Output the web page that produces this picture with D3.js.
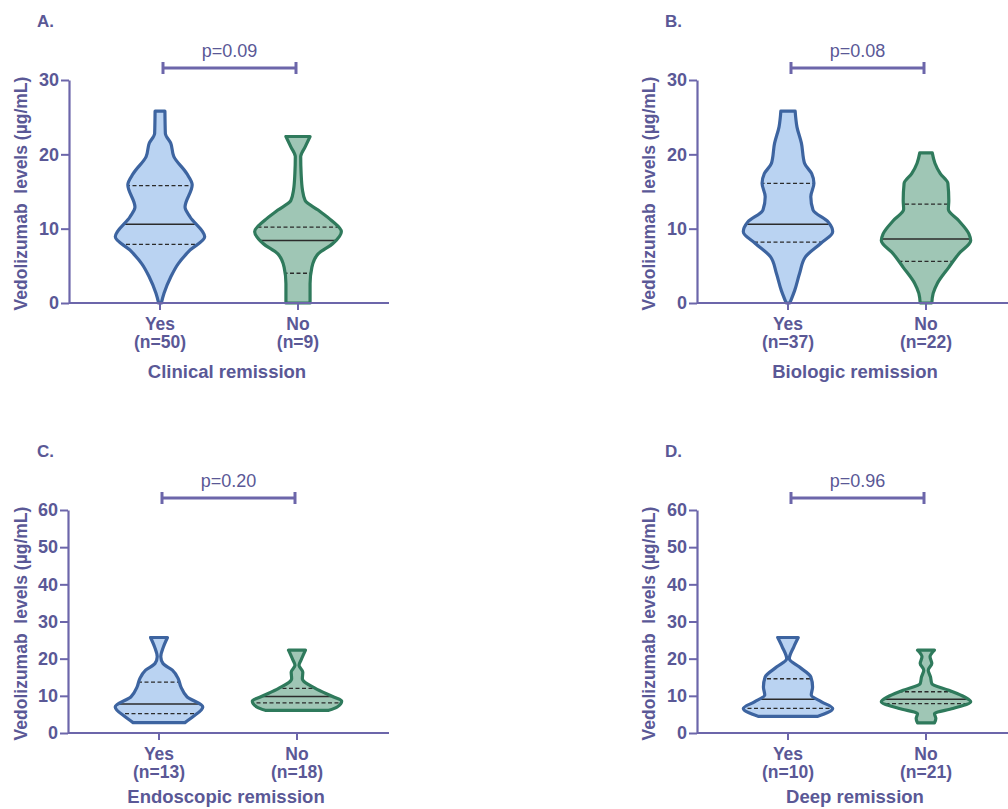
<!DOCTYPE html>
<html>
<head>
<meta charset="utf-8">
<script src="https://cdn.jsdelivr.net/npm/d3@7"></script>
<style>
  body { margin: 0; background: #fff; }
  svg { display: block; font-family: "Liberation Sans", Arial, sans-serif; }
</style>
</head>
<body>
<div id="chart"></div>
<script>
// categories and panel labels
const groups = ["Yes", "No"];
const panelLetters = ["A.", "B.", "C.", "D."];
const panelTitles = ["Clinical remission", "Biologic remission", "Endoscopic remission", "Deep remission"];
const sampleSizes = [[50, 9], [37, 22], [13, 18], [10, 21]];
const pValues = ["p=0.09", "p=0.08", "p=0.20", "p=0.96"];
const yMaxes = [30, 30, 60, 60];
const yTicksA = [0, 10, 20, 30];
const yTicksC = [0, 10, 20, 30, 40, 50, 60];

// quartiles [q1, median, q3] per panel: [Yes, No]
const quartiles = [
    [[7.9, 10.6, 15.8], [4.0, 8.4, 10.2]],
    [[8.2, 10.6, 16.1], [5.6, 8.6, 13.3]],
    [[5.2, 7.8, 13.7], [8.1, 9.8, 12.0]],
    [[6.6, 9.1, 14.6], [7.9, 9.1, 11.1]]
];

// violin outlines: [value, relative density] (top to bottom)
const densityA = [
    [[25.8, 0.11], [22.8, 0.12], [21.5, 0.24], [19.7, 0.31], [17.4, 0.60], [15.9, 0.72], [12.9, 0.56],
     [11.6, 0.67], [8.9, 1.0], [7.1, 0.67], [5.3, 0.41], [3.5, 0.24], [1.3, 0.09], [0, 0.03]],
    [[22.4, 0.27], [21.0, 0.16], [19.7, 0.06], [17.4, 0.07], [15.2, 0.10], [13.8, 0.16], [12.5, 0.45],
     [11.1, 0.75], [9.6, 0.97], [8.0, 0.78], [6.6, 0.45], [4.8, 0.31], [2.6, 0.27], [0, 0.27]]
];
const densityB = [
    [[25.8, 0.16], [23.7, 0.20], [21.5, 0.30], [18.8, 0.37], [17.4, 0.53], [16.1, 0.58], [14.3, 0.51],
     [12.5, 0.56], [10.9, 0.90], [9.6, 1.0], [8.0, 0.73], [6.2, 0.39], [4.0, 0.26], [1.7, 0.15], [0, 0.04]],
    [[20.2, 0.14], [18.8, 0.20], [17.4, 0.32], [16.1, 0.49], [13.8, 0.51], [12.6, 0.50], [11.1, 0.73],
     [9.3, 0.96], [8.4, 1.0], [6.6, 0.73], [4.8, 0.51], [2.6, 0.25], [1.3, 0.16], [0, 0.13]]
];
const densityC = [
    [[25.7, 0.19], [23.2, 0.10], [20.5, 0.04], [18.7, 0.09], [16.9, 0.30], [14.6, 0.43], [12.4, 0.49],
     [9.7, 0.63], [7.0, 0.98], [4.3, 0.75], [2.8, 0.58]],
    [[22.3, 0.19], [19.6, 0.09], [18.2, 0.045], [16.4, 0.13], [14.6, 0.12], [12.0, 0.41], [9.7, 0.82],
     [8.6, 1.0], [7.0, 0.90], [6.1, 0.71]]
];
const densityD = [
    [[25.7, 0.23], [23.2, 0.13], [20.0, 0.03], [17.8, 0.25], [15.1, 0.51], [12.4, 0.55], [10.2, 0.52],
     [8.4, 0.75], [6.6, 1.0], [4.5, 0.67]],
    [[22.3, 0.19], [20.5, 0.09], [18.7, 0.13], [16.9, 0.05], [15.1, 0.10], [13.3, 0.13], [11.5, 0.51],
     [9.7, 0.86], [8.4, 1.0], [6.6, 0.60], [5.2, 0.19], [3.9, 0.22], [2.7, 0.19]]
];
const densities = [densityA, densityB, densityC, densityD];

const W = 1008, H = 809;
const axisColor = "#6c66aa";
const textColor = "#5a5896";
const fills = ["#bad3f2", "#9fc6b5"];
const strokes = ["#3d64a0", "#2f7a5c"];

// panel frames: left axis x, top of y range, bottom (0) of y range, x axis end
const frames = [
    {x: 69, top: 80, bottom: 303, end: 389, ox: 0, oy: 0},
    {x: 697, top: 80, bottom: 303, end: 1010, ox: 628, oy: 0},
    {x: 68, top: 510, bottom: 733, end: 389, ox: 0, oy: 430},
    {x: 697, top: 510, bottom: 733, end: 1010, ox: 628, oy: 430}
];

const svg = d3.select("#chart").append("svg")
    .attr("width", W)
    .attr("height", H);

const widthScale = d3.scaleLinear().domain([0, 1]).range([0, 44.7]);

frames.forEach((f, i) => {
    const g = svg.append("g").attr("class", "panel");
    const y = d3.scaleLinear().domain([0, yMaxes[i]]).range([f.bottom, f.top]);
    const x = d3.scalePoint().domain(groups).range([f.x + 91, f.x + 229]);
    const ticks = yMaxes[i] === 30 ? yTicksA : yTicksC;
    const tallMode = yMaxes[i] === 30;

    // violins
    groups.forEach((grp, j) => {
        const cx = x(grp);
        const pts = densities[i][j];
        const area = d3.area()
            .y(d => y(d[0]))
            .x0(d => cx - widthScale(d[1]))
            .x1(d => cx + widthScale(d[1]))
            .curve(d3.curveMonotoneY);
        const clipId = "clip" + i + "_" + j;
        g.append("clipPath").attr("id", clipId)
            .append("path").attr("d", area(pts));
        g.append("path")
            .attr("d", area(pts))
            .attr("fill", fills[j]);
        const q = quartiles[i][j];
        const lines = g.append("g").attr("clip-path", "url(#" + clipId + ")");
        q.forEach((v, k) => {
            lines.append("line")
                .attr("x1", cx - 60).attr("x2", cx + 60)
                .attr("y1", y(v)).attr("y2", y(v))
                .attr("stroke", "#2b2b2b")
                .attr("stroke-width", k === 1 ? 1.5 : 1.3)
                .attr("stroke-dasharray", k === 1 ? null : "4,2.5");
        });
        g.append("path")
            .attr("d", area(pts))
            .attr("fill", "none")
            .attr("stroke", strokes[j])
            .attr("stroke-width", 3.2)
            .attr("stroke-linejoin", "round");
    });

    // y axis
    const yAxis = d3.axisLeft(y).tickValues(ticks).tickSize(8).tickPadding(2).tickSizeOuter(0);
    const ya = g.append("g").attr("transform", "translate(" + f.x + ",0)").call(yAxis);
    ya.select(".domain").attr("stroke", axisColor).attr("stroke-width", 2.2);
    ya.selectAll(".tick line").attr("stroke", axisColor).attr("stroke-width", 2);
    ya.selectAll(".tick text")
        .attr("fill", textColor)
        .attr("font-size", 18)
        .attr("font-weight", "bold")
        .attr("font-family", "Liberation Sans, Arial, sans-serif");

    // x axis
    g.append("line")
        .attr("x1", f.x).attr("x2", f.end)
        .attr("y1", f.bottom).attr("y2", f.bottom)
        .attr("stroke", axisColor).attr("stroke-width", 2.2);
    groups.forEach((grp, j) => {
        g.append("line")
            .attr("x1", x(grp)).attr("x2", x(grp))
            .attr("y1", f.bottom).attr("y2", f.bottom + 7)
            .attr("stroke", axisColor).attr("stroke-width", 2);
        g.append("text")
            .attr("x", x(grp)).attr("y", f.bottom + 27)
            .attr("text-anchor", "middle")
            .attr("fill", textColor).attr("font-size", 17.5).attr("font-weight", "bold")
            .text(grp);
        g.append("text")
            .attr("x", x(grp)).attr("y", f.bottom + 45)
            .attr("text-anchor", "middle")
            .attr("fill", textColor).attr("font-size", 17.5).attr("font-weight", "bold")
            .text("(n=" + sampleSizes[i][j] + ")");
    });
    g.append("text")
        .attr("x", (x("Yes") + x("No")) / 2 - 2)
        .attr("y", f.bottom + (tallMode ? 75 : 70))
        .attr("text-anchor", "middle")
        .attr("fill", textColor).attr("font-size", 18.5).attr("font-weight", "bold")
        .text(panelTitles[i]);

    // y axis title
    const midY = (f.top + f.bottom) / 2 + 2;
    g.append("text")
        .attr("transform", "translate(" + (f.ox + 27) + "," + midY + ") rotate(-90)")
        .attr("text-anchor", "middle")
        .attr("fill", textColor).attr("font-size", 17.5).attr("font-weight", "bold")
        .attr("xml:space", "preserve")
        .style("white-space", "pre")
        .text("Vedolizumab  levels (\u00b5g/mL)");

    // panel letter
    g.append("text")
        .attr("x", f.ox + 37).attr("y", f.oy + 27)
        .attr("fill", textColor).attr("font-size", 17).attr("font-weight", "bold")
        .text(panelLetters[i]);

    // significance bracket
    const by = f.top - 12;
    const bx0 = x("Yes") + 3, bx1 = x("No") - 2;
    g.append("line").attr("x1", bx0).attr("x2", bx1).attr("y1", by).attr("y2", by)
        .attr("stroke", axisColor).attr("stroke-width", 3);
    [bx0, bx1].forEach(bx => {
        g.append("line").attr("x1", bx).attr("x2", bx).attr("y1", by - 6).attr("y2", by + 6)
            .attr("stroke", axisColor).attr("stroke-width", 3);
    });
    g.append("text")
        .attr("x", (bx0 + bx1) / 2).attr("y", by - 11)
        .attr("text-anchor", "middle")
        .attr("fill", textColor).attr("font-size", 18)
        .text(pValues[i]);
});
</script>
</body>
</html>
